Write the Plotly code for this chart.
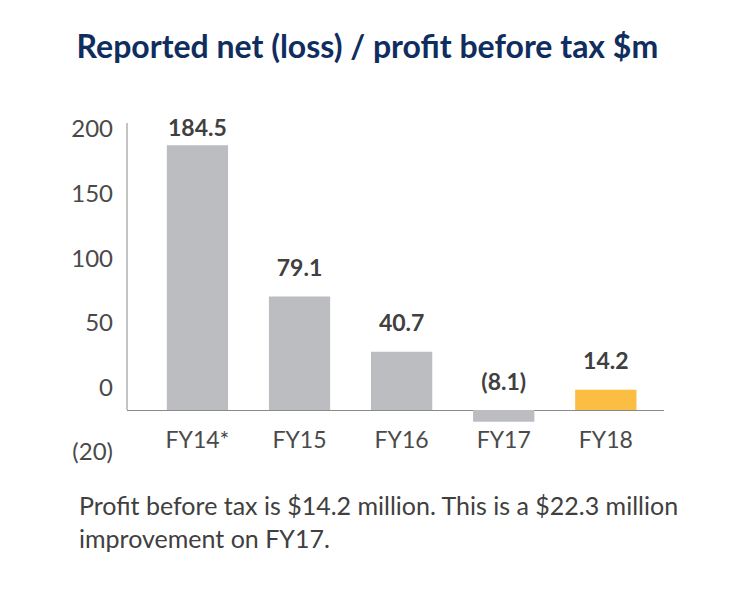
import plotly.graph_objects as go

categories = ["FY14*", "FY15", "FY16", "FY17", "FY18"]
values = [184.5, 79.1, 40.7, -8.1, 14.2]
value_labels = ["184.5", "79.1", "40.7", "(8.1)", "14.2"]
y_tick_labels = ["(20)", "0", "50", "100", "150", "200"]
title_text = "Reported net (loss) / profit before tax $m"
footnote = "Profit before tax is $14.2 million. This is a $22.3 million<br>improvement on FY17."

GRAY = "#bcbdc1"
GOLD = "#fbbd42"
bar_colors = [GRAY, GRAY, GRAY, GRAY, GOLD]
FONT = "Lato"
TXT = "#404040"

fig = go.Figure()
fig.add_trace(go.Bar(
    x=categories, y=values, marker=dict(color=bar_colors, line=dict(width=0)),
    width=0.6, hoverinfo="skip", showlegend=False,
))
fig.add_trace(go.Scatter(
    x=categories, y=[max(v, 0) for v in values], mode="text+markers",
    text=value_labels, textposition="top center",
    marker=dict(size=[4, 22, 22, 22, 22], opacity=0),
    textfont=dict(family=FONT, size=23, color=TXT, weight="bold"),
    cliponaxis=False, showlegend=False, hoverinfo="skip",
))
# invisible trace to carry the label axis
fig.add_trace(go.Scatter(x=[categories[0]], y=[None], yaxis="y2", showlegend=False,
                         hoverinfo="skip", mode="markers"))

fig.update_layout(
    width=735, height=592,
    margin=dict(l=119, r=79, t=115, b=138, autoexpand=False),
    paper_bgcolor="white", plot_bgcolor="white",
    title=dict(text=f"<b>{title_text}</b>", x=0.489, xanchor="center", y=0.935, yanchor="middle",
               font=dict(family=FONT, size=32, color="#0f2d5e")),
    xaxis=dict(range=[-0.69, 4.57], anchor="free", position=0.113, showline=False,
               automargin=False,
               showgrid=False, ticks="", tickfont=dict(family=FONT, size=23, color="#4a4a4a")),
    yaxis=dict(range=[-36.2, 200], showgrid=False, showline=False, zeroline=True,
               automargin=False,
               zerolinecolor="#8a8a8a", zerolinewidth=1, showticklabels=False, ticks=""),
    yaxis2=dict(overlaying="y", side="left", range=[-0.155, 5.093], automargin=False,
                tickmode="array", tickvals=list(range(len(y_tick_labels))), ticktext=y_tick_labels,
                showgrid=False, zeroline=False, showline=False, ticks="",
                ticklabelstandoff=13,
                tickfont=dict(family=FONT, size=24, color="#4a4a4a")),
    shapes=[dict(type="line", xref="paper", x0=0, x1=0, yref="y", y0=0, y1=200,
                 line=dict(color="#8a8a8a", width=1))],
    annotations=[dict(text=footnote, xref="paper", yref="paper", x=-0.093, y=-0.077,
                      xanchor="left", yanchor="top", align="left", showarrow=False,
                      font=dict(family=FONT, size=25, color=TXT))],
)

fig.write_html("out.html")
